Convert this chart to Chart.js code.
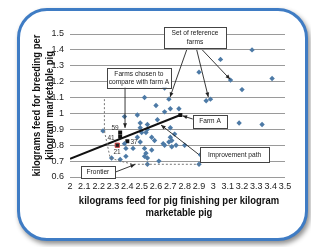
<!DOCTYPE html>
<html>
<head>
<meta charset="utf-8">
<script src="https://cdn.jsdelivr.net/npm/chart.js@4"></script>
<style>
  html, body { margin: 0; padding: 0; background: #fff; }
  body { width: 311px; height: 247px; position: relative; overflow: hidden; }
  .frame {
    position: absolute; left: 17px; top: 8px; width: 285px; height: 227px;
    border: 3px solid #3f7cc4; border-radius: 30px; background: #fff;
    box-shadow: 2px 3px 5px rgba(0,0,0,0.45);
  }
  #chart { position: absolute; left: 0; top: 0; }
</style>
</head>
<body>
<div class="frame"></div>
<canvas id="chart" width="311" height="247"></canvas>
<script>
// reference farms (blue diamonds)
const refX = [3.27, 3.05, 3.12, 3.41, 3.20, 2.90, 2.95, 2.98, 3.18, 3.34,
              2.66, 2.52, 2.69, 2.60, 2.70, 2.76, 2.66, 2.38, 2.47, 2.23,
              2.49, 2.49, 2.50, 2.54, 2.54, 2.61, 2.70, 2.53, 2.57, 2.59,
              2.65, 2.66, 2.47, 2.49, 2.38, 2.39, 2.44, 2.52, 2.53, 2.52,
              2.54, 2.57, 2.70, 2.71, 2.69, 2.73, 2.71, 2.74, 2.39, 2.29,
              2.35, 2.62, 2.54, 2.90, 2.91, 2.80];
const refY = [1.40, 1.34, 1.21, 1.22, 1.15, 1.26, 1.08, 1.09, 0.94, 0.93,
              1.16, 1.10, 1.09, 1.05, 1.03, 1.03, 1.01, 0.98, 0.99, 0.89,
              0.94, 0.91, 0.88, 0.93, 0.90, 0.96, 0.91, 0.88, 0.85, 0.83,
              0.81, 0.80, 0.85, 0.82, 0.81, 0.78, 0.78, 0.78, 0.75, 0.73,
              0.72, 0.77, 0.85, 0.83, 0.82, 0.87, 0.79, 0.80, 0.73, 0.72,
              0.71, 0.70, 0.68, 0.68, 0.74, 0.80];

// farms chosen to compare with farm A (59, 41, 37) and farm 21
const chosenX = [2.35, 2.35, 2.40];
const chosenY = [0.88, 0.855, 0.825];
const farm21 = { x: 2.33, y: 0.80 };
const farmA = { x: 2.77, y: 0.99 };

// improvement path and frontier
const pathX = [2.00, 2.77];
const pathY = [0.715, 0.99];
const frontierX = [2.24, 2.24, 2.28, 2.35, 2.44, 2.90];
const frontierY = [1.09, 0.89, 0.72, 0.70, 0.68, 0.68];

const xTicks = [2, 2.1, 2.2, 2.3, 2.4, 2.5, 2.6, 2.7, 2.8, 2.9, 3, 3.1, 3.2, 3.3, 3.4, 3.5];
const yTicks = [0.6, 0.7, 0.8, 0.9, 1, 1.1, 1.2, 1.3, 1.4, 1.5];
const xTitle = ['kilograms feed for pig finishing per kilogram', 'marketable pig'];
const yTitle = ['kilograms feed for breeding per', 'kilogram marketable pig'];

// callout boxes: centre in data units, size in px
const boxes = [
  { x: 2.872, y: 1.477, w: 62, h: 21, lines: ['Set of reference', 'farms'] },
  { x: 2.481, y: 1.225, w: 64, h: 20, lines: ['Farms chosen to', 'compare with farm A'] },
  { x: 2.977, y: 0.951, w: 34, h: 13, lines: ['Farm A'] },
  { x: 3.148, y: 0.739, w: 69, h: 15, lines: ['Improvement path'] },
  { x: 2.195, y: 0.629, w: 34, h: 12, lines: ['Frontier'] }
];
const arrows = [
  [2.814, 1.400, 2.698, 1.103],
  [2.884, 1.400, 2.965, 1.103],
  [2.923, 1.400, 3.117, 1.215],
  [2.384, 1.231, 2.384, 0.909],
  [2.856, 0.965, 2.785, 0.985],
  [2.898, 0.742, 2.635, 0.927],
  [2.314, 0.630, 2.454, 0.679]
];
const farmLabels = [
  { x: 2.314, y: 0.906, t: '59' },
  { x: 2.286, y: 0.845, t: '41' },
  { x: 2.328, y: 0.757, t: '21' },
  { x: 2.447, y: 0.818, t: '37' }
];

const zip = (xs, ys) => xs.map((x, i) => ({ x: x, y: ys[i] }));
const fmt = v => String(Number(v.toFixed(1)));
const tickFont = { family: '"Liberation Sans", Arial, sans-serif', size: 9 };

// text squeezed along its own direction, the scan looks narrower than Arial
function squeezedText(ctx, text, x, y, rot, sq) {
  ctx.save();
  ctx.translate(x, y);
  ctx.rotate(rot);
  ctx.scale(sq, 1);
  ctx.fillText(text, 0, 0);
  ctx.restore();
}

const calloutPlugin = {
  id: 'callouts',
  afterDatasetsDraw(chart) {
    const ctx = chart.ctx;
    const sx = chart.scales.x, sy = chart.scales.y;
    ctx.save();
    ctx.strokeStyle = '#222';
    ctx.fillStyle = '#222';
    ctx.lineWidth = 0.9;
    arrows.forEach(a => {
      const x1 = sx.getPixelForValue(a[0]), y1 = sy.getPixelForValue(a[1]);
      const x2 = sx.getPixelForValue(a[2]), y2 = sy.getPixelForValue(a[3]);
      ctx.beginPath(); ctx.moveTo(x1, y1); ctx.lineTo(x2, y2); ctx.stroke();
      const ang = Math.atan2(y2 - y1, x2 - x1);
      ctx.beginPath();
      ctx.moveTo(x2, y2);
      ctx.lineTo(x2 - 5 * Math.cos(ang - 0.4), y2 - 5 * Math.sin(ang - 0.4));
      ctx.lineTo(x2 - 5 * Math.cos(ang + 0.4), y2 - 5 * Math.sin(ang + 0.4));
      ctx.closePath(); ctx.fill();
    });
    ctx.font = '7.5px "Liberation Sans", Arial, sans-serif';
    ctx.textAlign = 'center';
    ctx.textBaseline = 'middle';
    boxes.forEach(b => {
      const cx = sx.getPixelForValue(b.x), cy = sy.getPixelForValue(b.y);
      ctx.fillStyle = '#fff';
      ctx.fillRect(cx - b.w / 2, cy - b.h / 2, b.w, b.h);
      ctx.strokeStyle = '#444';
      ctx.lineWidth = 1;
      ctx.strokeRect(Math.round(cx - b.w / 2) + 0.5, Math.round(cy - b.h / 2) + 0.5, b.w, b.h);
      ctx.fillStyle = '#222';
      const lh = 8.5;
      b.lines.forEach((t, i) => {
        squeezedText(ctx, t, cx, cy + (i - (b.lines.length - 1) / 2) * lh, 0, 0.88);
      });
    });
    ctx.font = '6.5px "Liberation Sans", Arial, sans-serif';
    ctx.fillStyle = '#333';
    farmLabels.forEach(l => {
      ctx.fillText(l.t, sx.getPixelForValue(l.x), sy.getPixelForValue(l.y));
    });
    ctx.restore();
  },
  afterDraw(chart) {
    const ctx = chart.ctx;
    const a = chart.chartArea;
    ctx.save();
    ctx.font = 'bold 11px "Liberation Sans", Arial, sans-serif';
    ctx.fillStyle = '#111';
    ctx.textAlign = 'center';
    ctx.textBaseline = 'middle';
    const cx = (a.left + a.right) / 2 + 1.5;
    xTitle.forEach((t, i) => squeezedText(ctx, t, cx, a.bottom + 24 + i * 11.5, 0, 0.86));
    const cy = (a.top + a.bottom) / 2;
    yTitle.forEach((t, i) => squeezedText(ctx, t, a.left - 33 + i * 12.5, cy, -Math.PI / 2, 0.86));
    ctx.restore();
  }
};

new Chart(document.getElementById('chart'), {
  type: 'scatter',
  data: {
    datasets: [
      {
        label: 'Frontier',
        type: 'line',
        data: zip(frontierX, frontierY),
        borderColor: '#777',
        borderWidth: 1,
        borderDash: [2, 2],
        pointRadius: 0,
        fill: false
      },
      {
        label: 'Improvement path',
        type: 'line',
        data: zip(pathX, pathY),
        borderColor: '#111',
        borderWidth: 2,
        pointRadius: 0,
        fill: false
      },
      {
        label: 'Reference farms',
        data: zip(refX, refY),
        pointStyle: 'rectRot',
        pointRadius: 2.7,
        backgroundColor: '#4d7aa6',
        borderColor: '#4d7aa6',
        borderWidth: 0
      },
      {
        label: 'Chosen farms',
        data: zip(chosenX, chosenY),
        pointStyle: 'rect',
        pointRadius: 2.8,
        backgroundColor: '#111',
        borderColor: '#111',
        borderWidth: 0
      },
      {
        label: 'Farm 21',
        data: [farm21],
        pointStyle: 'rect',
        pointRadius: 3,
        backgroundColor: '#222',
        borderColor: '#d04040',
        borderWidth: 1
      },
      {
        label: 'Farm A',
        data: [farmA],
        pointStyle: 'rect',
        pointRadius: 2.8,
        backgroundColor: '#111',
        borderColor: '#111',
        borderWidth: 0
      }
    ]
  },
  options: {
    responsive: false,
    animation: false,
    events: [],
    layout: { padding: { left: 0, right: 26, top: 34, bottom: 20 } },
    plugins: { legend: { display: false }, tooltip: { enabled: false } },
    scales: {
      x: {
        type: 'linear',
        min: 2, max: 3.5,
        afterBuildTicks: axis => { axis.ticks = xTicks.map(v => ({ value: v })); },
        afterFit: axis => { axis.height = 50; },
        grid: { display: false, drawTicks: false },
        border: { display: false },
        ticks: {
          autoSkip: false, maxRotation: 0, padding: 4,
          color: '#222',
          font: tickFont,
          callback: v => fmt(v)
        }
      },
      y: {
        min: 0.6, max: 1.5,
        afterBuildTicks: axis => { axis.ticks = yTicks.map(v => ({ value: v })); },
        afterFit: axis => { axis.width = 70; },
        grid: { color: '#9a9a9a', lineWidth: 1, drawTicks: false },
        border: { display: false },
        ticks: {
          padding: 6,
          color: '#222',
          font: tickFont,
          callback: v => fmt(v)
        }
      }
    }
  },
  plugins: [calloutPlugin]
});
</script>
</body>
</html>
